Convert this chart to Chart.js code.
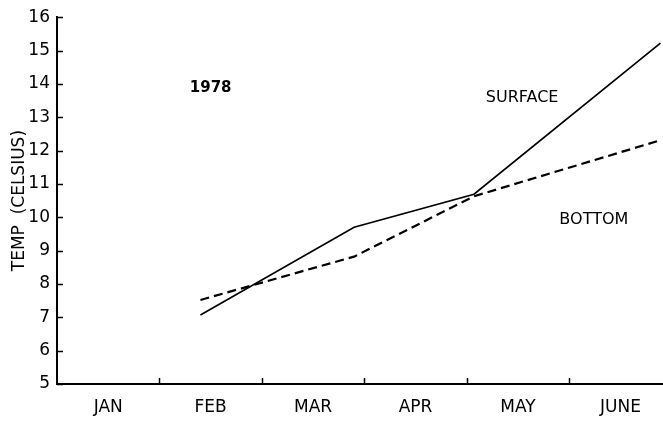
<!DOCTYPE html>
<html><head><meta charset="utf-8">
<script src="https://cdn.jsdelivr.net/npm/chart.js@4"></script>
<style>html,body{margin:0;padding:0;background:#fff;overflow:hidden;}</style>
</head><body>
<canvas id="c" width="663" height="421"></canvas>
<script>
// ---- data ----
const months = ['JAN', 'FEB', 'MAR', 'APR', 'MAY', 'JUNE'];
const monthCenters = [0.5, 1.5, 2.5, 3.5, 4.5, 5.5];
const monthBoundaries = [1, 2, 3, 4, 5];
const sampleTimes = [1.40, 2.90, 4.07, 5.89];      // fractional months since Jan 1
const surfaceTemp = [7.07, 9.70, 10.69, 15.22];
const bottomTemp = [7.52, 8.82, 10.63, 12.31];
const yTickValues = [5, 6, 7, 8, 9, 10, 11, 12, 13, 14, 15, 16];
const noteTexts = ['1978', 'SURFACE', 'BOTTOM'];
const noteX = [1.50, 4.54, 5.24];
const noteY = [13.87, 13.57, 9.92];

const FONT = '"DejaVu Sans", sans-serif';
const INK = '#000';

const innerTicks = {
  id: 'innerTicks',
  afterDraw(chart) {
    const {ctx, chartArea: a, scales: {x, y}} = chart;
    ctx.save();
    ctx.strokeStyle = INK;
    ctx.lineWidth = 1.5;
    ctx.beginPath();
    yTickValues.forEach(v => {
      const py = Math.round(y.getPixelForValue(v)) + 0.5;
      ctx.moveTo(a.left, py); ctx.lineTo(a.left + 6, py);
    });
    monthBoundaries.forEach(v => {
      const px = Math.round(x.getPixelForValue(v)) + 0.5;
      ctx.moveTo(px, a.bottom); ctx.lineTo(px, a.bottom - 6);
    });
    ctx.stroke();
    ctx.restore();
  }
};

const notesPlugin = {
  id: 'notes',
  afterDatasetsDraw(chart) {
    const {ctx, scales: {x, y}} = chart;
    ctx.save();
    ctx.fillStyle = INK;
    ctx.textAlign = 'center';
    ctx.textBaseline = 'middle';
    noteTexts.forEach((t, i) => {
      ctx.font = (i === 0 ? 'bold 15px ' : '16px ') + FONT;
      ctx.fillText(t, x.getPixelForValue(noteX[i]), y.getPixelForValue(noteY[i]));
    });
    ctx.restore();
  }
};

new Chart(document.getElementById('c'), {
  type: 'line',
  data: {
    datasets: [
      {
        label: 'SURFACE',
        data: sampleTimes.map((t, i) => ({x: t, y: surfaceTemp[i]})),
        borderColor: INK, borderWidth: 1.7, pointRadius: 0, tension: 0, fill: false
      },
      {
        label: 'BOTTOM',
        data: sampleTimes.map((t, i) => ({x: t, y: bottomTemp[i]})),
        borderColor: INK, borderWidth: 2.2, borderDash: [9, 5], pointRadius: 0, tension: 0, fill: false
      }
    ]
  },
  options: {
    responsive: false,
    devicePixelRatio: 1,
    animation: false,
    layout: {padding: {top: 17, right: 0, bottom: 0, left: 0}},
    plugins: {legend: {display: false}, tooltip: {enabled: false}},
    scales: {
      x: {
        type: 'linear', min: 0, max: 5.915,
        afterBuildTicks: s => { s.ticks = monthCenters.map(v => ({value: v})); },
        afterFit: s => { s.height = 37; },
        ticks: {
          callback: (v, i) => months[i],
          autoSkip: false, maxRotation: 0, padding: 13,
          color: INK, font: {family: FONT, size: 17}
        },
        grid: {display: false, drawTicks: false},
        border: {display: true, color: INK, width: 2}
      },
      y: {
        min: 5, max: 16,
        afterBuildTicks: s => { s.ticks = yTickValues.map(v => ({value: v})); },
        afterFit: s => { s.width = 57; },
        ticks: {padding: 7, color: INK, font: {family: FONT, size: 17}},
        grid: {display: false, drawTicks: false},
        border: {display: true, color: INK, width: 2},
        title: {
          display: true, text: 'TEMP  (CELSIUS)', color: INK,
          font: {family: FONT, size: 17}, padding: {top: 9, bottom: 0}
        }
      }
    }
  },
  plugins: [innerTicks, notesPlugin]
});
</script>
</body></html>
